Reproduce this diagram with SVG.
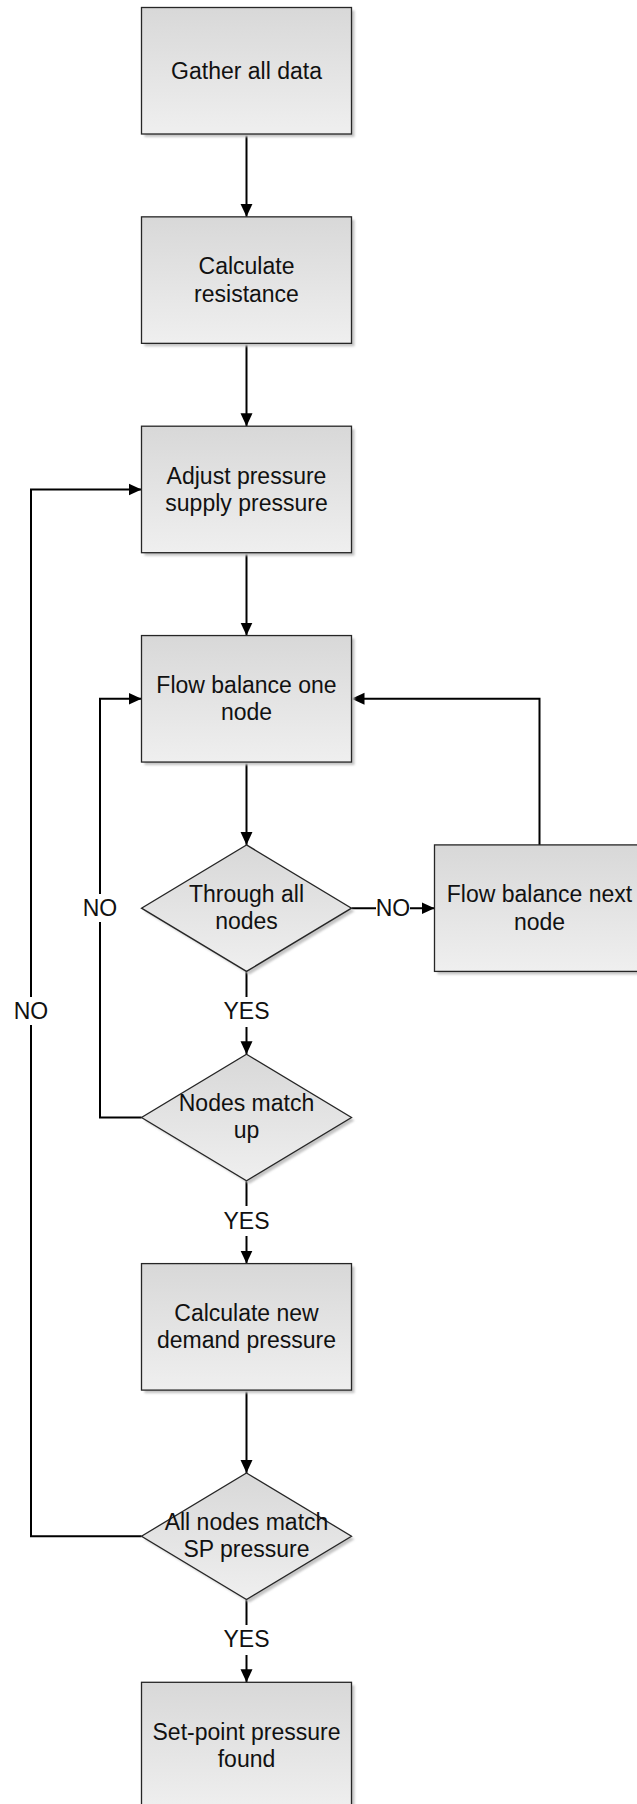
<svg xmlns="http://www.w3.org/2000/svg" width="637" height="1804" viewBox="0 0 637 1804">
<style>
.node{fill:url(#g);stroke:#262626;stroke-width:1.3}
.shadow{fill:#c4c4c4;filter:url(#blur)}
.t{font-family:"Liberation Sans",Arial,sans-serif;font-size:23px;fill:#111;text-anchor:middle}
.c{fill:none;stroke:#000;stroke-width:2}
.lbg{fill:#fff}
</style>
<defs>
<linearGradient id="g" x1="0" y1="0" x2="0" y2="1">
<stop offset="0" stop-color="#d8d8d8"/>
<stop offset="1" stop-color="#efefef"/>
</linearGradient>
<filter id="blur" x="-10%" y="-10%" width="120%" height="120%"><feGaussianBlur stdDeviation="1"/></filter>
<marker id="a" markerUnits="userSpaceOnUse" markerWidth="14" markerHeight="14" refX="13" refY="6" orient="auto">
<path d="M0,0 L13,6 L0,12 z" fill="#000"/>
</marker>
</defs>
<rect width="637" height="1804" fill="#fff"/>

<g id="connectors">
<path class="c" d="M246.5,134 V216.85" marker-end="url(#a)"/>
<path class="c" d="M246.5,343.35 V426.2" marker-end="url(#a)"/>
<path class="c" d="M246.5,552.7 V635.55" marker-end="url(#a)"/>
<path class="c" d="M246.5,762.05 V844.9" marker-end="url(#a)"/>
<path class="c" d="M246.5,971.4 V1054.25" marker-end="url(#a)"/>
<path class="c" d="M246.5,1180.75 V1263.6" marker-end="url(#a)"/>
<path class="c" d="M246.5,1390.1 V1472.95" marker-end="url(#a)"/>
<path class="c" d="M246.5,1599.45 V1682.3" marker-end="url(#a)"/>
<path class="c" d="M351.5,908.15 H434.5" marker-end="url(#a)"/>
<path class="c" d="M539.5,844.9 V698.8 H351.5" marker-end="url(#a)"/>
<path class="c" d="M141.5,1117.5 H100 V698.8 H141.5" marker-end="url(#a)"/>
<path class="c" d="M141.5,1536.2 H31 V489.45 H141.5" marker-end="url(#a)"/>
<rect class="lbg" x="376" y="896" width="34" height="24"/>
<text class="t" x="393" y="916">NO</text>
<rect class="lbg" x="83" y="894" width="34" height="28"/>
<text class="t" x="100" y="916">NO</text>
<rect class="lbg" x="14" y="997" width="34" height="28"/>
<text class="t" x="31" y="1019.3">NO</text>
<rect class="lbg" x="223" y="997" width="47" height="30"/>
<text class="t" x="246.5" y="1019.3">YES</text>
<rect class="lbg" x="223" y="1206" width="47" height="30"/>
<text class="t" x="246.5" y="1228.6">YES</text>
<rect class="lbg" x="223" y="1625" width="47" height="30"/>
<text class="t" x="246.5" y="1647.3">YES</text>
</g>

<g id="n1">
<rect class="shadow" x="144.5" y="10.5" width="210" height="126.5"/>
<rect class="node" x="141.5" y="7.5" width="210" height="126.5"/>
<text class="t" x="246.5" y="78.7">Gather all data</text>
</g>
<g id="n2">
<rect class="shadow" x="144.5" y="219.85" width="210" height="126.5"/>
<rect class="node" x="141.5" y="216.85" width="210" height="126.5"/>
<text class="t" x="246.5" y="274.3">Calculate</text>
<text class="t" x="246.5" y="301.7">resistance</text>
</g>
<g id="n3">
<rect class="shadow" x="144.5" y="429.2" width="210" height="126.5"/>
<rect class="node" x="141.5" y="426.2" width="210" height="126.5"/>
<text class="t" x="246.5" y="483.6">Adjust pressure</text>
<text class="t" x="246.5" y="511">supply pressure</text>
</g>
<g id="n4">
<rect class="shadow" x="144.5" y="638.55" width="210" height="126.5"/>
<rect class="node" x="141.5" y="635.55" width="210" height="126.5"/>
<text class="t" x="246.5" y="693">Flow balance one</text>
<text class="t" x="246.5" y="720.4">node</text>
</g>
<g id="d1">
<polygon class="shadow" points="249.5,847.9 354.5,911.15 249.5,974.4 144.5,911.15"/>
<polygon class="node" points="246.5,844.9 351.5,908.15 246.5,971.4 141.5,908.15"/>
<text class="t" x="246.5" y="901.5">Through all</text>
<text class="t" x="246.5" y="929">nodes</text>
</g>
<g id="n5">
<rect class="shadow" x="437.5" y="847.9" width="210" height="126.5"/>
<rect class="node" x="434.5" y="844.9" width="210" height="126.5"/>
<text class="t" x="539.5" y="902.3">Flow balance next</text>
<text class="t" x="539.5" y="929.7">node</text>
</g>
<g id="d2">
<polygon class="shadow" points="249.5,1057.25 354.5,1120.5 249.5,1183.75 144.5,1120.5"/>
<polygon class="node" points="246.5,1054.25 351.5,1117.5 246.5,1180.75 141.5,1117.5"/>
<text class="t" x="246.5" y="1111">Nodes match</text>
<text class="t" x="246.5" y="1138.4">up</text>
</g>
<g id="n6">
<rect class="shadow" x="144.5" y="1266.6" width="210" height="126.5"/>
<rect class="node" x="141.5" y="1263.6" width="210" height="126.5"/>
<text class="t" x="246.5" y="1321">Calculate new</text>
<text class="t" x="246.5" y="1348.4">demand pressure</text>
</g>
<g id="d3">
<polygon class="shadow" points="249.5,1475.95 354.5,1539.2 249.5,1602.45 144.5,1539.2"/>
<polygon class="node" points="246.5,1472.95 351.5,1536.2 246.5,1599.45 141.5,1536.2"/>
<text class="t" x="246.5" y="1530">All nodes match</text>
<text class="t" x="246.5" y="1557.4">SP pressure</text>
</g>
<g id="n7">
<rect class="shadow" x="144.5" y="1685.3" width="210" height="126.5"/>
<rect class="node" x="141.5" y="1682.3" width="210" height="126.5"/>
<text class="t" x="246.5" y="1739.7">Set-point pressure</text>
<text class="t" x="246.5" y="1767.1">found</text>
</g>
</svg>
